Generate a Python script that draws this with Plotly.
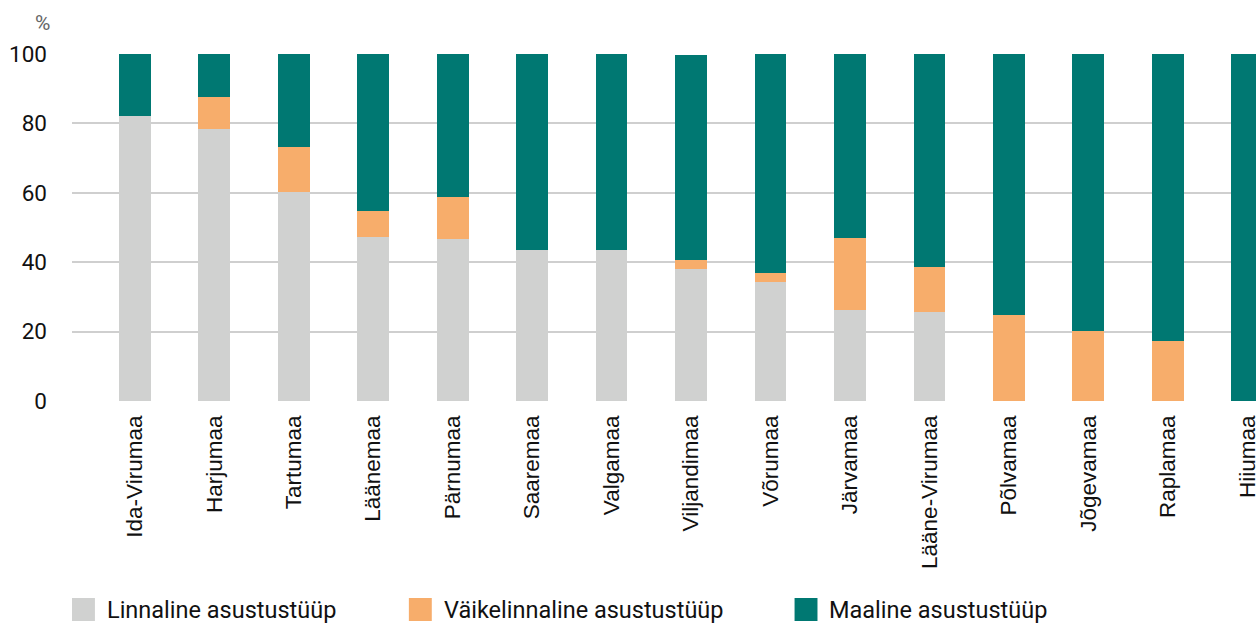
import plotly.graph_objects as go

# maakonnad ja asustustüübi osakaalud (%)
counties = ['Ida-Virumaa', 'Harjumaa', 'Tartumaa', 'Läänemaa', 'Pärnumaa', 'Saaremaa',
            'Valgamaa', 'Viljandimaa', 'Võrumaa', 'Järvamaa', 'Lääne-Virumaa', 'Põlvamaa',
            'Jõgevamaa', 'Raplamaa', 'Hiiumaa']
linnaline = [82.1, 78.3, 60.1, 47.4, 46.8, 43.6, 43.4, 37.9, 34.4, 26.3, 25.7, 0, 0, 0, 0]
vaikelinnaline = [0, 9.3, 13.0, 7.3, 11.9, 0, 0, 2.6, 2.6, 20.8, 13.0, 24.9, 20.2, 17.3, 0]
maaline = [17.9, 12.4, 26.9, 45.3, 41.3, 56.4, 56.6, 59.2, 63.0, 52.9, 61.3, 75.1, 79.8, 82.7, 100]

names = ['Linnaline asustustüüp', 'Väikelinnaline asustustüüp', 'Maaline asustustüüp']
colors = ['#d0d1d0', '#f7ad6b', '#007872']

W, H = 1260, 623
L, T, B = 72, 54, 222
PW, PH = W - L, H - T - B

fig = go.Figure()
for vals, name, col in zip([linnaline, vaikelinnaline, maaline], names, colors):
    fig.add_trace(go.Bar(x=counties, y=vals, name=name, marker=dict(color=col, line_width=0),
                         width=0.4, showlegend=False))

fig.update_layout(
    barmode='stack',
    width=W, height=H,
    margin=dict(l=L, r=0, t=T, b=B),
    plot_bgcolor='white', paper_bgcolor='white',
    font=dict(family='Roboto', color='#1a1a1a'),
    xaxis=dict(range=[-0.79, 14.11], tickangle=-90, showgrid=False,
               tickfont=dict(family='Liberation Sans', size=22.5, color='#111'),
               ticklabelstandoff=9),
    yaxis=dict(range=[0, 100], dtick=20, showgrid=True, gridcolor='#cfcfcf', gridwidth=1.5,
               zeroline=False, tickfont=dict(size=22.5, color='#111'),
               ticklabelstandoff=24),
)

def px(x, y):
    # pixel position -> paper coords
    return (x - L) / PW, (H - B - y) / PH

ax, ay = px(33, 9)
fig.add_annotation(text='%', x=ax, y=ay, xref='paper', yref='paper', showarrow=False,
                   font=dict(size=21, color='#666'), xanchor='left', yanchor='top')

# legend drawn by hand at the bottom
leg_x = [72, 410, 797]
for lx, name, col in zip(leg_x, names, colors):
    x0, y0 = px(lx, 621)
    x1, y1 = px(lx + 23, 598)
    fig.add_shape(type='rect', xref='paper', yref='paper', x0=x0, x1=x1, y0=y0, y1=y1,
                  fillcolor=col, line_width=0)
    tx, ty = px(lx + 33, 610)
    fig.add_annotation(text=name, xref='paper', yref='paper', x=tx, y=ty,
                       xanchor='left', yanchor='middle', showarrow=False,
                       font=dict(size=23.5, color='#111'))

fig.write_html("out.html", config={'displayModeBar': False},
               post_script="document.body.style.margin='0px';")
